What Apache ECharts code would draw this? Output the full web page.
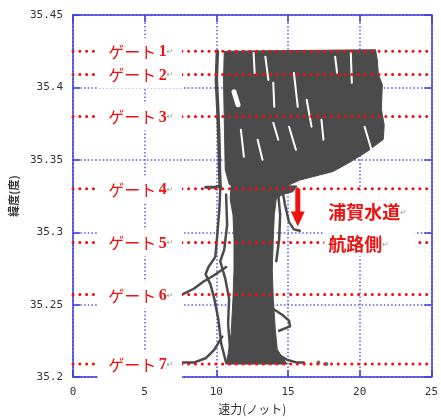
<!DOCTYPE html>
<html><head><meta charset="utf-8">
<script src="https://cdn.jsdelivr.net/npm/echarts@6/dist/echarts.min.js"></script>
<style>html,body{margin:0;padding:0;background:#fff}#c{width:441px;height:420px}</style>
</head><body><div id="c"></div>
<script>
// ---- data ----
const xRange = [0, 25];
const yRange = [35.2, 35.45];
const gateLat = [35.425, 35.409, 35.380, 35.330, 35.293, 35.257, 35.209];
const gateNames = ['ゲート', 'ゲート', 'ゲート', 'ゲート', 'ゲート', 'ゲート', 'ゲート'];
const gateNums = ['1', '2', '3', '4', '5', '6', '7'];
const noteLines = ['浦賀水道', '航路側'];
const arrowSpeed = 15.68;
const arrowLat = [35.330, 35.304];

// dense cloud of ship tracks (speed kn, latitude deg)
const denseTop = [[10.55,35.425],[21.10,35.426],[21.23,35.419],[21.30,35.409],[21.58,35.402],[21.51,35.385],[21.71,35.374],[21.64,35.364],[20.41,35.355],[19.25,35.348],[18.15,35.342],[15.82,35.336],[14.93,35.332],[14.45,35.330],[11.51,35.330],[10.90,35.333],[10.62,35.343],[10.55,35.378],[10.50,35.405]];
const denseTrunk = [[11.03,35.332],[15.62,35.332],[15.34,35.328],[14.59,35.326],[14.18,35.323],[14.04,35.312],[13.97,35.295],[13.90,35.274],[13.97,35.254],[14.11,35.233],[14.25,35.219],[14.73,35.212],[14.93,35.209],[10.68,35.209],[10.82,35.216],[11.03,35.230],[11.16,35.254],[11.23,35.274],[11.23,35.295],[11.16,35.312],[10.96,35.323]];
// individual tracks at the edges of the cloud
const trackLeftTop = [[10.07,35.425],[10.00,35.405],[10.10,35.385],[10.18,35.364],[10.22,35.343],[10.27,35.330]];
const trackGate4Spur = [[9.25,35.331],[9.79,35.331],[10.27,35.332]];
const trackL1 = [[10.27,35.330],[10.21,35.316],[10.07,35.299],[9.93,35.283],[9.45,35.276],[9.25,35.271],[9.59,35.264],[9.86,35.254],[10.14,35.240],[10.34,35.223],[10.68,35.210]];
const trackL2 = [[7.60,35.257],[8.42,35.261],[9.11,35.266],[9.79,35.270],[10.68,35.276]];
const trackL3 = [[7.60,35.210],[8.42,35.210],[9.25,35.213],[9.86,35.219],[10.41,35.228]];
const trackL4 = [[10.68,35.326],[10.75,35.305],[10.55,35.288],[10.27,35.280],[10.62,35.268],[10.89,35.254],[10.82,35.237],[10.96,35.219],[11.16,35.210]];
const trackR1 = [[14.59,35.330],[14.79,35.319],[15.07,35.307],[15.41,35.302],[15.82,35.301]];
const trackR2 = [[14.32,35.326],[14.45,35.312],[14.38,35.295],[14.18,35.280]];
const trackR3 = [[13.97,35.247],[14.59,35.243],[15.07,35.239],[15.14,35.235],[14.38,35.232]];
const trackR4 = [[14.25,35.216],[14.93,35.212],[15.62,35.210],[16.10,35.210]];
const specks = [[17.12,35.210],[17.67,35.209]];
// white gaps between strands inside the dense cloud
const gapHole = [[11.23,35.397],[11.51,35.388]];
const gaps = [
  [[12.60,35.4238],[12.67,35.4100]],
  [[13.42,35.4211],[13.63,35.4052]],
  [[13.97,35.4032],[14.04,35.3866]],
  [[15.07,35.3729],[15.55,35.3570]],
  [[11.71,35.3708],[11.92,35.3522]],
  [[12.88,35.3639],[13.22,35.3501]],
  [[16.30,35.3915],[16.64,35.3729]],
  [[19.38,35.4238],[19.45,35.4032]],
  [[18.29,35.4211],[18.42,35.4100]],
  [[15.41,35.4100],[15.68,35.3866]],
  [[17.33,35.3777],[17.47,35.3639]],
  [[20.34,35.3729],[20.82,35.3570]],
  [[13.97,35.3756],[14.32,35.3639]]
];

// ---- styles ----
const BLUE = '#3c3cdc';
const GRID = '#5858e0';
const GRAY = '#4b4b4b';
const RED = '#ee1111';

const chart = echarts.init(document.getElementById('c'), null, {renderer: 'canvas'});

function polySeries(points, color) {
  return {
    type: 'custom', silent: true, data: [0], z: 2,
    renderItem: (params, api) => ({
      type: 'polygon',
      shape: {points: points.map(p => api.coord(p))},
      style: {fill: color, stroke: color, lineWidth: 1}
    })
  };
}
function trackSeries(points, width, color) {
  return {
    type: 'line', data: points, symbol: 'none', silent: true, z: 3,
    lineStyle: {color: color || GRAY, width: width, cap: 'round', join: 'round'}
  };
}

const series = [];
series.push(polySeries(denseTop, GRAY));
series.push(polySeries(denseTrunk, GRAY));
series.push(trackSeries(gapHole, 5, '#ffffff'));
gaps.forEach(g => series.push(trackSeries(g, 2, '#ffffff')));
series.push(trackSeries(trackLeftTop, 3.5));
series.push(trackSeries(trackGate4Spur, 3));
[trackL1, trackL2, trackL3, trackL4, trackR1, trackR2, trackR3, trackR4].forEach(t => series.push(trackSeries(t, 2.5)));
series.push({type: 'scatter', data: specks, symbolSize: 4, itemStyle: {color: GRAY}, silent: true, z: 3});

// red dotted gate lines
gateLat.forEach(lat => {
  series.push({
    type: 'line', data: [[xRange[0], lat], [xRange[1], lat]], symbol: 'none', silent: true, z: 4,
    lineStyle: {color: RED, width: 3, type: [0.1, 6.7], cap: 'round'}
  });
});

// gate labels on white boxes
series.push({
  type: 'custom', silent: true, z: 5,
  data: gateLat.map((lat, i) => [i, lat]),
  renderItem: (params, api) => {
    const i = api.value(0);
    const lat = api.value(1);
    const a = api.coord([1.71, lat]);
    const b = api.coord([7.60, lat]);
    const t = api.coord([2.45, lat]);
    return {
      type: 'group',
      children: [
        {type: 'rect', shape: {x: a[0], y: a[1] - 13, width: b[0] - a[0], height: 27}, style: {fill: '#fff'}},
        {type: 'text', x: t[0], y: t[1] + 1, style: {
          text: '{a|' + gateNames[i] + '}{s| }{b|' + gateNums[i] + '}{c|↵}',
          verticalAlign: 'middle', align: 'left',
          rich: {
            a: {fontFamily: 'Noto Sans CJK JP', fontSize: 16, fill: RED, color: RED},
            s: {fontSize: 9, fill: RED, color: RED},
            b: {fontFamily: 'Liberation Serif', fontWeight: 'bold', fontSize: 16, fill: RED, color: RED},
            c: {fontFamily: 'DejaVu Sans', fontSize: 8, fill: '#999', color: '#999'}
          }
        }}
      ]
    };
  }
});

// arrow
series.push({
  type: 'custom', silent: true, z: 6, data: [[arrowSpeed, arrowLat[0], arrowLat[1]]],
  renderItem: (params, api) => {
    const top = api.coord([api.value(0), api.value(1)]);
    const tip = api.coord([api.value(0), api.value(2)]);
    const headLen = 15;
    return {
      type: 'group',
      children: [
        {type: 'rect', shape: {x: top[0] - 2.5, y: top[1], width: 5, height: tip[1] - top[1] - headLen + 1}, style: {fill: RED}},
        {type: 'polygon', shape: {points: [[tip[0] - 7, tip[1] - headLen], [tip[0] + 7, tip[1] - headLen], [tip[0], tip[1]]]}, style: {fill: RED}}
      ]
    };
  }
});

// note box
series.push({
  type: 'custom', silent: true, z: 6, data: [0],
  renderItem: (params, api) => {
    const a = api.coord([17.53, 35.3274]);
    const b = api.coord([23.84, 35.2833]);
    const t1 = api.coord([17.80, 35.3136]);
    const t2 = api.coord([17.80, 35.2916]);
    const rich = {
      a: {fontFamily: 'Noto Sans CJK JP', fontSize: 18, fontWeight: 'bold', fill: RED, color: RED},
      c: {fontFamily: 'DejaVu Sans', fontSize: 8, fill: '#999', color: '#999'}
    };
    return {
      type: 'group',
      children: [
        {type: 'rect', shape: {x: a[0], y: a[1], width: b[0] - a[0], height: b[1] - a[1]}, style: {fill: '#fff'}},
        {type: 'text', x: t1[0], y: t1[1], style: {text: '{a|' + noteLines[0] + '}{c|↵}', rich: rich, verticalAlign: 'middle', align: 'left'}},
        {type: 'text', x: t2[0], y: t2[1], style: {text: '{a|' + noteLines[1] + '}{c|↵}', rich: rich, verticalAlign: 'middle', align: 'left'}}
      ]
    };
  }
});

const axisBase = {
  type: 'value',
  axisLine: {show: true, onZero: false, lineStyle: {color: BLUE, width: 1.5}},
  axisTick: {show: true, inside: true, length: 7, lineStyle: {color: BLUE, width: 1.5}}
};

chart.setOption({
  animation: false,
  backgroundColor: '#fff',
  grid: {left: 72, top: 15, right: 4, bottom: 42, containLabel: false},
  xAxis: [
    Object.assign({}, axisBase, {
      min: xRange[0], max: xRange[1], interval: 5, position: 'bottom',
      axisLabel: {color: '#333', fontFamily: 'DejaVu Sans Mono', fontSize: 11, margin: 10},
      splitLine: {show: true, lineStyle: {color: GRID, width: 1.5, type: [1.5, 2.2]}},
      name: '速力(ノット)', nameLocation: 'middle', nameGap: 23,
      nameTextStyle: {color: '#333', fontFamily: 'Noto Sans CJK JP', fontSize: 12}
    }),
    Object.assign({}, axisBase, {
      min: xRange[0], max: xRange[1], interval: 5, position: 'top',
      axisLabel: {show: false}, splitLine: {show: false}
    })
  ],
  yAxis: [
    Object.assign({}, axisBase, {
      min: yRange[0], max: yRange[1], interval: 0.05, position: 'left',
      axisLabel: {color: '#333', fontFamily: 'DejaVu Sans Mono', fontSize: 11, margin: 10,
        formatter: v => String(+v.toFixed(2))},
      splitLine: {show: true, lineStyle: {color: GRID, width: 1.5, type: [1.5, 2.2]}},
      name: '緯度(度)', nameLocation: 'middle', nameGap: 52,
      nameTextStyle: {color: '#333', fontFamily: 'Noto Sans CJK JP', fontSize: 11, fontWeight: 'bold'}
    }),
    Object.assign({}, axisBase, {
      min: yRange[0], max: yRange[1], interval: 0.05, position: 'right',
      axisLabel: {show: false}, splitLine: {show: false}
    })
  ],
  series: series
});
</script>
</body></html>
